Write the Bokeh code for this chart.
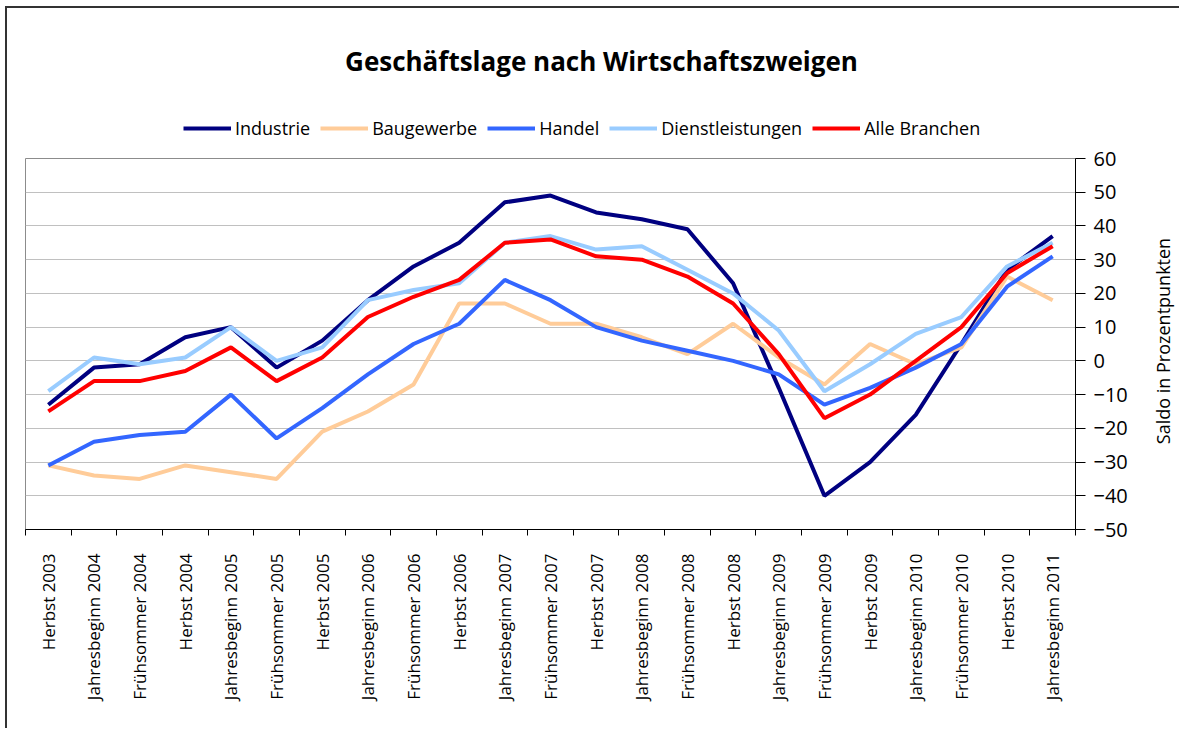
import math
from bokeh.plotting import figure
from bokeh.layouts import column, row
from bokeh.models import FixedTicker, Legend, LegendItem, Range1d, Label
from bokeh.embed import file_html
from bokeh.resources import INLINE

categories = [
    "Herbst 2003", "Jahresbeginn 2004", "Frühsommer 2004", "Herbst 2004",
    "Jahresbeginn 2005", "Frühsommer 2005", "Herbst 2005", "Jahresbeginn 2006",
    "Frühsommer 2006", "Herbst 2006", "Jahresbeginn 2007", "Frühsommer 2007",
    "Herbst 2007", "Jahresbeginn 2008", "Frühsommer 2008", "Herbst 2008",
    "Jahresbeginn 2009", "Frühsommer 2009", "Herbst 2009", "Jahresbeginn 2010",
    "Frühsommer 2010", "Herbst 2010", "Jahresbeginn 2011",
]
industrie = [-13, -2, -1, 7, 10, -2, 6, 18, 28, 35, 47, 49, 44, 42, 39, 23, -8, -40, -30, -16, 5, 27, 37]
baugewerbe = [-31, -34, -35, -31, -33, -35, -21, -15, -7, 17, 17, 11, 11, 7, 2, 11, 1, -7, 5, -1, 4, 25, 18]
handel = [-31, -24, -22, -21, -10, -23, -14, -4, 5, 11, 24, 18, 10, 6, 3, 0, -4, -13, -8, -2, 5, 22, 31]
dienstleistungen = [-9, 1, -1, 1, 10, 0, 4, 18, 21, 23, 35, 37, 33, 34, 27, 20, 9, -9, -1, 8, 13, 28, 35]
alle_branchen = [-15, -6, -6, -3, 4, -6, 1, 13, 19, 24, 35, 36, 31, 30, 25, 17, 2, -17, -10, 0, 10, 26, 34]

series_names = ["Industrie", "Baugewerbe", "Handel", "Dienstleistungen", "Alle Branchen"]
series_values = [industrie, baugewerbe, handel, dienstleistungen, alle_branchen]
series_colors = ["#000080", "#FFCC99", "#3366FF", "#99CCFF", "#FF0000"]
y_ticks = list(range(-50, 61, 10))
y_min, y_max = y_ticks[0], y_ticks[-1]
title_text = "Geschäftslage nach Wirtschaftszweigen"
y_label = "Saldo in Prozentpunkten"

FONT = "Open Sans"
n = len(categories)
xs = [i + 0.5 for i in range(n)]

# layout sizes (pixels)
FRAME_W, FRAME_H = 1050, 371
TOP, BOTTOM, LEFT, RIGHT = 18, 199, 18, 60
MAIN_H = TOP + FRAME_H + BOTTOM

# ---------------- header (title + legend) ----------------
header = figure(frame_width=FRAME_W, frame_height=132, min_border_left=LEFT, min_border_right=0,
                min_border_top=0, min_border_bottom=0,
                x_range=Range1d(0, n), y_range=Range1d(1000, 1001),
                x_axis_location=None, y_axis_location=None,
                output_backend="svg", toolbar_location=None)
header.outline_line_color = None
header.xgrid.visible = False
header.ygrid.visible = False

items = []
for name, vals, col in zip(series_names, series_values, series_colors):
    # same series, outside the header's visible range: only used for the legend keys
    r = header.line(xs, vals, line_color=col, line_width=4)
    items.append(LegendItem(label=name, renderers=[r]))

legend = Legend(items=items, orientation="horizontal", location=(158, 0),
                glyph_width=48, glyph_height=20, label_height=20, label_standoff=4,
                spacing=10, padding=0, margin=0, border_line_color=None,
                background_fill_alpha=0, label_text_font=FONT, label_text_font_size="18px",
                label_text_color="black")
header.add_layout(legend, "center")

header.add_layout(Label(x=576, y=80, x_units="screen", y_units="screen",
                        text=title_text, text_align="center",
                        text_baseline="middle", text_font=FONT, text_font_size="26px",
                        text_font_style="bold", text_color="black"))

# ---------------- main chart ----------------
p = figure(frame_width=FRAME_W, frame_height=FRAME_H,
           min_border_left=LEFT, min_border_top=TOP, min_border_right=RIGHT, min_border_bottom=BOTTOM,
           x_range=Range1d(0, n), y_range=Range1d(y_min, y_max),
           y_axis_location="right", output_backend="svg", toolbar_location=None)
p.background_fill_color = "white"
p.border_fill_color = "white"
p.outline_line_color = "#8c8c8c"
p.outline_line_width = 1

p.xgrid.visible = False
p.ygrid.ticker = FixedTicker(ticks=y_ticks)
p.ygrid.grid_line_color = "#c0c0c0"
p.ygrid.grid_line_width = 1

xa = p.xaxis[0]
xa.ticker = FixedTicker(ticks=xs, minor_ticks=list(range(n + 1)))
xa.major_label_overrides = {x: c for x, c in zip(xs, categories)}
xa.major_label_orientation = math.pi / 2
xa.major_tick_out = 0
xa.major_tick_in = 0
xa.minor_tick_out = 6
xa.minor_tick_in = 0
xa.minor_tick_line_color = "black"
xa.axis_line_color = "black"
xa.major_label_standoff = 18
xa.major_label_text_font = FONT
xa.major_label_text_font_size = "17px"
xa.major_label_text_color = "black"

ya = p.yaxis[0]
ya.ticker = FixedTicker(ticks=y_ticks)
ya.major_tick_out = 10
ya.major_tick_in = 0
ya.minor_tick_out = 0
ya.minor_tick_in = 0
ya.axis_line_color = "black"
ya.major_tick_line_color = "black"
ya.major_label_standoff = 8
ya.major_label_text_font = FONT
ya.major_label_text_font_size = "20px"
ya.major_label_text_color = "black"

for name, vals, col in zip(series_names, series_values, series_colors):
    p.line(xs, vals, line_color=col, line_width=4)

# ---------------- y-axis title (reads bottom to top) ----------------
side = figure(frame_width=44, frame_height=MAIN_H, min_border_left=0, min_border_right=0,
              min_border_top=0, min_border_bottom=0,
              x_range=Range1d(0, 1), y_range=Range1d(0, 1),
              x_axis_location=None, y_axis_location=None,
              output_backend="svg", toolbar_location=None)
side.outline_line_color = None
side.xgrid.visible = False
side.ygrid.visible = False
side.add_layout(Label(x=27, y=BOTTOM + FRAME_H / 2 + 21, x_units="screen", y_units="screen",
                      text=y_label, text_align="center", text_baseline="middle",
                      angle=math.pi / 2, text_font=FONT, text_font_size="18px",
                      text_color="black"))

layout = column(header, row(p, side, spacing=0), spacing=0,
                styles={"margin-left": "5px", "margin-top": "6px",
                        "border-left": "2px solid #333333", "border-top": "2px solid #333333"})
open("out.html", "w").write(file_html(layout, INLINE))
